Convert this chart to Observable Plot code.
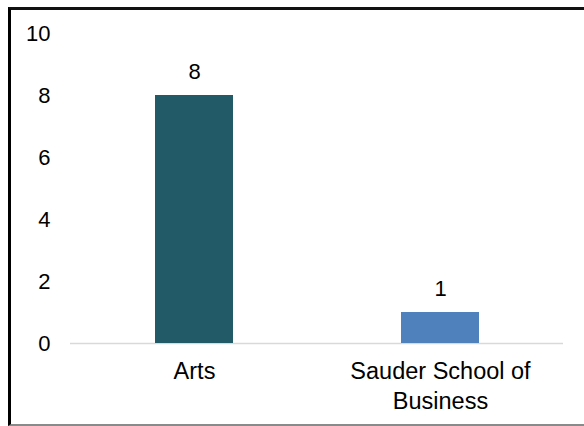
<!DOCTYPE html>
<html>
<head>
<meta charset="utf-8">
<script src="https://cdn.jsdelivr.net/npm/d3@7"></script>
<script src="https://cdn.jsdelivr.net/npm/@observablehq/plot@0.6"></script>
<style>
  html, body { margin: 0; padding: 0; background: #fff; }
  #wrap { position: relative; width: 584px; height: 426px; overflow: hidden; }
  #frame { position: absolute; left: 8px; top: 7px; width: 600px; height: 414px;
           border-left: 3px solid #000; border-top: 3px solid #111; border-bottom: 2px solid #8a8a8a; }
  #chart { position: absolute; left: 0; top: 0; }
</style>
</head>
<body>
<div id="wrap"><div id="chart"></div><div id="frame"></div></div>
<script>
const categories = ["Arts", "Sauder School of Business"];
const categoryLabels = ["Arts", "Sauder School of\nBusiness"];
const values = [8, 1];
const colors = ["#235A67", "#4F81BD"];
const yTicks = [0, 2, 4, 6, 8, 10];

const data = categories.map((c, i) => ({category: c, value: values[i], color: colors[i]}));
const font = "'Liberation Sans', Arial, sans-serif";

const chart = Plot.plot({
  width: 584,
  height: 426,
  marginLeft: 70,
  marginRight: 21,
  marginTop: 33,
  marginBottom: 83,
  style: {fontFamily: font, fontSize: "22px", color: "#000", background: "#fff"},
  x: {domain: categories, paddingInner: 0.684, paddingOuter: 0.34, label: null},
  y: {domain: [0, 10], label: null},
  marks: [
    Plot.ruleY([0], {stroke: "#d9d9d9", strokeWidth: 1.5}),
    Plot.barY(data, {x: "category", y: "value", fill: "color"}),
    Plot.text(data, {x: "category", y: "value", text: d => String(d.value), dy: -24, fontSize: 22, fill: "#000"}),
    Plot.axisY(yTicks, {tickSize: 0, tickPadding: 20, fontSize: 22, fill: "#000", label: null}),
    Plot.axisX({tickSize: 0, tickPadding: 15, fontSize: 23.5, fill: "#000", lineHeight: 1.25, label: null,
      tickFormat: d => categoryLabels[categories.indexOf(d)]})
  ]
});
document.getElementById("chart").appendChild(chart);
</script>
</body>
</html>
